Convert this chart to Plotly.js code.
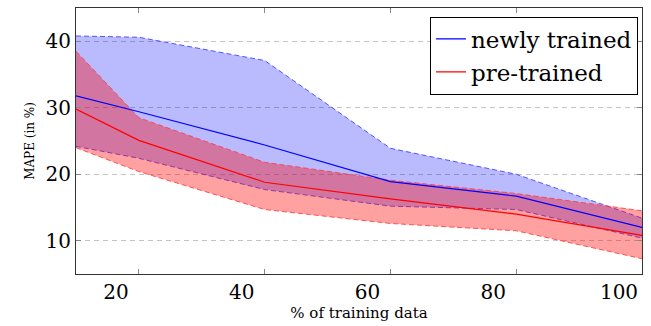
<!DOCTYPE html>
<html>
<head>
<meta charset="utf-8">
<script src="https://cdn.plot.ly/plotly-3.0.1.min.js"></script>
<style>
  html, body { margin: 0; padding: 0; background: #ffffff; }
  #chart { width: 651px; height: 326px; }
</style>
</head>
<body>
<div id="chart"></div>
<script>
// % of training data
const trainingShare = [10, 20, 40, 60, 80, 100];

// newly trained model: mean MAPE and band
const newlyMean  = [31.8, 29.4, 24.4, 18.9, 16.7, 12.0];
const newlyUpper = [40.8, 40.6, 37.1, 23.9, 20.0, 13.4];
const newlyLower = [24.2, 22.4, 17.7, 15.2, 14.7, 10.4];

// pre-trained model: mean MAPE and band
const preMean  = [29.8, 25.1, 18.8, 16.3, 14.0, 10.8];
const preUpper = [38.5, 28.5, 21.8, 19.1, 17.1, 14.5];
const preLower = [24.0, 20.4, 14.7, 12.6, 11.5, 7.3];

// axis ticks
const xTickVals = [20, 40, 60, 80, 100];
const xTickLabels = ['20', '40', '60', '80', '100'];
const yTickVals = [10, 20, 30, 40];
const yTickLabels = ['10', '20', '30', '40'];

const seriesNames = ['newly trained', 'pre-trained'];

const serif = 'DejaVu Serif';
const BLUE = '#0000ff';
const RED = '#ff0000';

const traces = [
  {
    x: trainingShare, y: newlyLower, mode: 'lines', showlegend: false, hoverinfo: 'skip',
    line: { color: 'rgba(60,60,255,0.85)', width: 1, dash: '5px,3px' }
  },
  {
    x: trainingShare, y: newlyUpper, mode: 'lines', showlegend: false, hoverinfo: 'skip',
    fill: 'tonexty', fillcolor: 'rgba(0,0,255,0.27)',
    line: { color: 'rgba(60,60,255,0.85)', width: 1, dash: '5px,3px' }
  },
  {
    x: trainingShare, y: preLower, mode: 'lines', showlegend: false, hoverinfo: 'skip',
    line: { color: 'rgba(255,60,60,0.85)', width: 1, dash: '5px,3px' }
  },
  {
    x: trainingShare, y: preUpper, mode: 'lines', showlegend: false, hoverinfo: 'skip',
    fill: 'tonexty', fillcolor: 'rgba(255,0,0,0.37)',
    line: { color: 'rgba(255,60,60,0.85)', width: 1, dash: '5px,3px' }
  },
  {
    x: trainingShare, y: newlyMean, mode: 'lines', name: seriesNames[0],
    line: { color: BLUE, width: 1.2 }
  },
  {
    x: trainingShare, y: preMean, mode: 'lines', name: seriesNames[1],
    line: { color: RED, width: 1.2 }
  }
];

const layout = {
  width: 651,
  height: 326,
  margin: { l: 76, r: 9, t: 8, b: 52 },
  paper_bgcolor: '#ffffff',
  plot_bgcolor: '#ffffff',
  font: { family: serif, color: '#000000' },
  showlegend: true,
  legend: {
    x: 0.993, xanchor: 'right',
    y: 0.968, yanchor: 'top',
    traceorder: 'normal',
    bgcolor: '#ffffff',
    bordercolor: '#000000',
    borderwidth: 1,
    font: { family: serif, size: 23, color: '#000000' },
    tracegroupgap: 0
  },
  xaxis: {
    range: [10, 100],
    tickmode: 'array',
    tickvals: xTickVals,
    ticktext: xTickLabels,
    ticks: 'inside',
    ticklen: 5,
    tickcolor: '#888888',
    tickfont: { family: serif, size: 20, color: '#000000' },
    ticklabelshift: -23,
    showline: true,
    linecolor: '#333333',
    linewidth: 1,
    mirror: 'ticks',
    showgrid: false,
    zeroline: false,
    title: { text: '% of training data', font: { family: serif, size: 15, color: '#000000' }, standoff: 2 }
  },
  yaxis: {
    range: [5, 45],
    tickmode: 'array',
    tickvals: yTickVals,
    ticktext: yTickLabels,
    ticks: 'inside',
    ticklen: 5,
    tickcolor: '#888888',
    tickfont: { family: serif, size: 20, color: '#000000' },
    showline: true,
    linecolor: '#333333',
    linewidth: 1,
    mirror: 'ticks',
    showgrid: true,
    gridcolor: '#c4c4c4',
    gridwidth: 1,
    griddash: '5px,4px',
    zeroline: false,
    title: { text: 'MAPE (in %)', font: { family: serif, size: 12, color: '#000000' }, standoff: 8 }
  }
};

Plotly.newPlot('chart', traces, layout, { displayModeBar: false, staticPlot: true });
</script>
</body>
</html>
